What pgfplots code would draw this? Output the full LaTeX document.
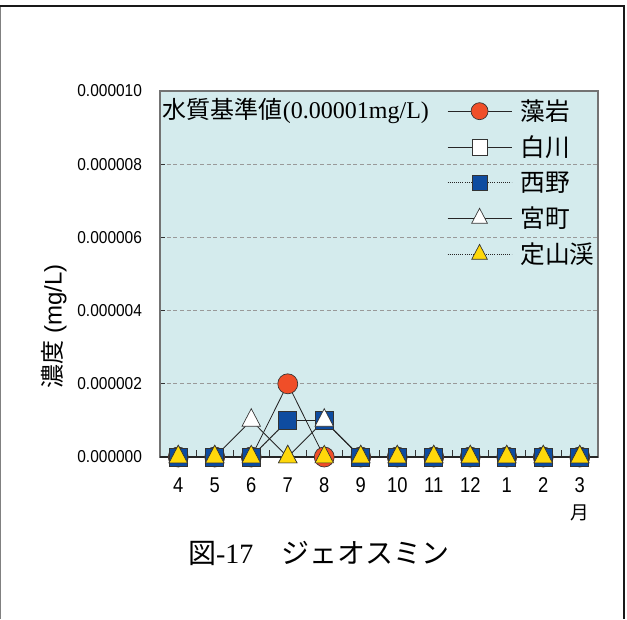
\documentclass[border=0pt]{standalone}
\usepackage{fontspec}
\usepackage{pgfplots}
\pgfplotsset{compat=1.18}
\setmainfont{Liberation Sans}
\newfontfamily\cjk{Noto Sans CJK JP}
\newfontfamily\ser{Liberation Serif}
\newfontfamily\yfont[FakeStretch=0.9]{Liberation Sans}
\newfontfamily\xfont[FakeStretch=0.86]{Liberation Sans}
\definecolor{bgc}{RGB}{212,235,237}
\definecolor{cred}{RGB}{240,78,40}
\definecolor{cblue}{RGB}{14,76,160}
\definecolor{cyel}{RGB}{255,216,10}
\begin{document}
\begin{tikzpicture}
\useasboundingbox (0,0) rectangle (470.25pt,-464.25pt);
\draw[gray, line width=0.8pt] (0.4pt,-4.5pt) -- (0.4pt,-464.25pt);
\draw[black!90, line width=1.7pt] (0,-4.5pt) -- (469pt,-4.5pt);
\draw[black!90, line width=2pt] (468pt,-4.5pt) -- (468pt,-464.25pt);
\begin{axis}[
  at={(120pt,-342.75pt)}, anchor=south west,
  width=328.5pt, height=274.5pt, scale only axis,
  xmin=-0.5, xmax=11.5, ymin=0, ymax=0.00001,
  xtick={0,...,11},
  xticklabels={4,5,6,7,8,9,10,11,12,1,2,{3\\[1pt]{\cjk\fontsize{14}{14}\selectfont 月}}},
  minor x tick num=1,
  tick align=inside, xtick pos=bottom, ytick pos=left,
  major tick length=4pt, minor tick length=5pt,
  tick style={black!80, line width=0.6pt},
  ytick={0,0.000002,0.000004,0.000006,0.000008,0.00001},
  scaled y ticks=false,
  yticklabel={\yfont\fontsize{12.9}{14}\selectfont\pgfmathprintnumber[fixed,fixed zerofill,precision=6,assume math mode=true]{\tick}},
  yticklabel style={xshift=-10pt},
  xticklabel style={font=\xfont\fontsize{16}{19}\selectfont, align=center, yshift=-12pt},
  axis background/.style={fill=bgc},
  axis line style={draw=gray!90!black, line width=1.2pt},
  ymajorgrids, major grid style={dash pattern=on 3pt off 2pt, gray!80, line width=0.8pt},
  clip=false,
  legend cell align=left,
  legend style={draw=none, fill=none, at={(0.655,0.984)}, anchor=north west,
    font=\cjk\fontsize{18.5}{20}\selectfont, row sep=6pt, inner sep=0pt,
    /tikz/every odd column/.append style={column sep=4.5pt}},
  legend image code/.code={
    \draw[#1, mark repeat=2, mark phase=2, every mark/.append style={scale=0.85}]
      plot coordinates {(0pt,0pt) (24pt,0pt) (48pt,0pt)};
  },
]
\draw[line width=1.6pt, black!85] (rel axis cs:0,0) -- (rel axis cs:1,0);
\addplot[black!85, line width=0.6pt, mark=*, mark size=7.5pt,
  mark options={fill=cred, draw=black!80, line width=0.5pt, solid}]
  coordinates {(0,0) (1,0) (2,0) (3,0.000002) (4,0) (5,0) (6,0) (7,0) (8,0) (9,0) (10,0) (11,0)};
\addlegendentry{藻岩}
\addplot[black!85, line width=0.6pt, mark=square*, mark size=6.75pt,
  mark options={fill=white, draw=black!80, line width=0.5pt, solid}]
  coordinates {(0,0) (1,0) (2,0) (3,0.000001) (4,0.000001) (5,0) (6,0) (7,0) (8,0) (9,0) (10,0) (11,0)};
\addlegendentry{白川}
\addplot[black!85, line width=0.6pt, densely dotted, mark=square*, mark size=6.75pt,
  mark options={fill=cblue, draw=black!80, line width=0.5pt, solid}]
  coordinates {(0,0) (1,0) (2,0) (3,0.000001) (4,0.000001) (5,0) (6,0) (7,0) (8,0) (9,0) (10,0) (11,0)};
\addlegendentry{西野}
\addplot[black!85, line width=0.6pt, mark=triangle*, mark size=8pt,
  mark options={fill=white, draw=black!80, line width=0.5pt, solid, yscale=1.1}]
  coordinates {(0,0) (1,0) (2,0.000001) (3,0) (4,0.000001) (5,0) (6,0) (7,0) (8,0) (9,0) (10,0) (11,0)};
\addlegendentry{宮町}
\addplot[black!85, line width=0.6pt, densely dotted, mark=triangle*, mark size=8pt,
  mark options={fill=cyel, draw=black!80, line width=0.5pt, solid, yscale=1.1}]
  coordinates {(0,0) (1,0) (2,0) (3,0) (4,0) (5,0) (6,0) (7,0) (8,0) (9,0) (10,0) (11,0)};
\addlegendentry{定山渓}
\end{axis}
\node[anchor=west, inner sep=0pt, font=\cjk\fontsize{18}{19}\selectfont] at (122pt,-83.25pt) {水質基準値{\ser(0.00001mg/L)}};
\node[rotate=90, inner sep=0pt, font=\fontsize{18}{19}\selectfont] at (40.5pt,-244.5pt) {{\cjk 濃度} (mg/L)};
\node[inner sep=0pt, font=\cjk\fontsize{21}{23}\selectfont] at (239pt,-414.75pt) {図{\ser -17}　ジェオスミン};
\end{tikzpicture}
\end{document}
